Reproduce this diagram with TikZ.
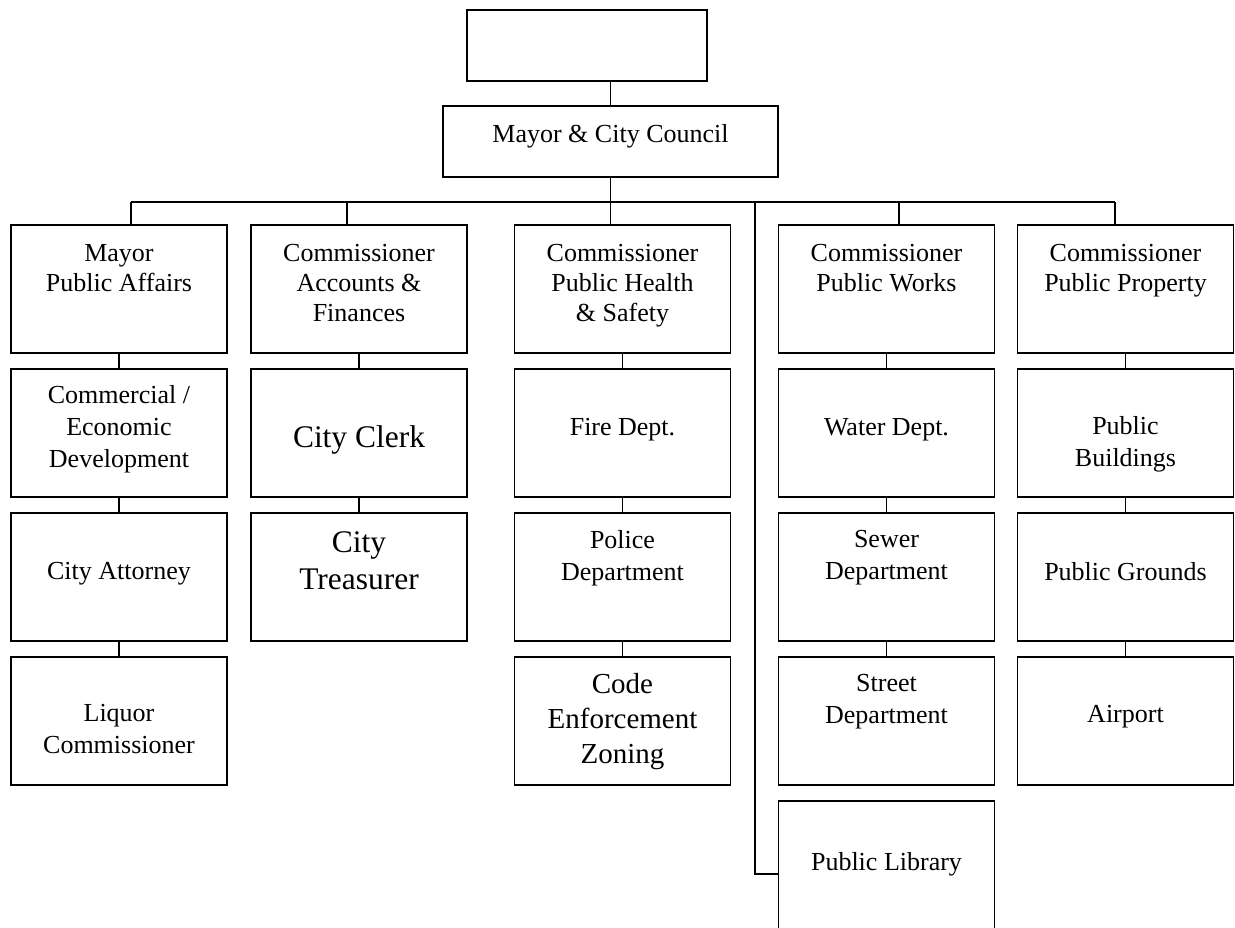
\documentclass[tikz,border=0pt]{standalone}
\usepackage{fontspec}
\setmainfont{Liberation Serif}
\usepackage{tikz}
\tikzset{
    box/.style={rectangle,draw=black,line width=1.4pt,outer sep=0pt,minimum width=162pt,minimum height=96pt,inner sep=0pt},
    headbox/.style={rectangle,draw=black,line width=1.4pt,outer sep=0pt,minimum height=53.25pt,inner sep=0pt},
    txt/.style={align=center,inner sep=0pt,font=\fontsize{19.5}{24}\selectfont},
    toptxt/.style={txt,font=\fontsize{19.5}{22.5}\selectfont},
    bigtxt/.style={txt,font=\fontsize{23.6}{27.75}\selectfont},
    midtxt/.style={txt,font=\fontsize{21.75}{26.25}\selectfont},
    link/.style={line width=1.3pt},
}
\usetikzlibrary{positioning,calc}

\begin{document}
\begin{tikzpicture}[x=0.75pt,y=-0.75pt]
\useasboundingbox (0,0) rectangle (1235,928);
\node[headbox,minimum width=180pt](top) at (587,45.5) {};
\node[headbox,minimum width=251.25pt](council) at (610.5,141.5) {};
\node[txt](councilt) [below=13.7pt of council.north] {Mayor \& City Council};
\draw[link] (council.north) -- (council.north |- top.south);

% bus under the council
\coordinate (b1) at (131,202);
\coordinate (b2) at (347,202);
\coordinate (b4) at (899,202);
\coordinate (b5) at (1115,202);
\coordinate (bl) at (755,202);
\draw[link] (b1) -- (b5);

% Mayor column
\node[box](mpa) at (119,289) {};
\node[box](ced) [below=12pt of mpa] {} edge[link] (mpa);
\node[box](att) [below=12pt of ced] {} edge[link] (ced);
\node[box](liq) [below=12pt of att] {} edge[link] (att);
\node[toptxt](mpat) [below=14.5pt of mpa.north] {Mayor\\Public Affairs};
\node[txt](cedt) [below=12.2pt of ced.north] {Commercial /\\Economic\\Development};
\node[txt](attt) [below=37pt of att.north] {City Attorney};
\node[txt](liqt) [below=35.5pt of liq.north] {Liquor\\Commissioner};

% Accounts column
\node[box](acc) at (359,289) {};
\node[box](clerk) [below=12pt of acc] {} edge[link] (acc);
\node[box](treas) [below=12pt of clerk] {} edge[link] (clerk);
\node[toptxt](acct) [below=14.5pt of acc.north] {Commissioner\\Accounts \&\\Finances};
\node[bigtxt](clerkt) [below=42.5pt of clerk.north] {City Clerk};
\node[bigtxt](treast) [below=14pt of treas.north] {City\\Treasurer};

% Health column
\node[box](phs) at (622.5,289) {};
\node[box](fire) [below=12pt of phs] {} edge[link] (phs);
\node[box](police) [below=12pt of fire] {} edge[link] (fire);
\node[box](code) [below=12pt of police] {} edge[link] (police);
\node[toptxt](phst) [below=14.5pt of phs.north] {Commissioner\\Public Health\\\& Safety};
\node[txt](firet) [below=37pt of fire.north] {Fire Dept.};
\node[txt](policet) [below=13pt of police.north] {Police\\Department};
\node[midtxt](codet) [below=12.2pt of code.north] {Code\\Enforcement\\Zoning};

% Works column
\node[box](pw) at (886.5,289) {};
\node[box](water) [below=12pt of pw] {} edge[link] (pw);
\node[box](sewer) [below=12pt of water] {} edge[link] (water);
\node[box](street) [below=12pt of sewer] {} edge[link] (sewer);
\node[box](lib) [below=12pt of street] {};
\node[toptxt](pwt) [below=14.5pt of pw.north] {Commissioner\\Public Works};
\node[txt](watert) [below=37pt of water.north] {Water Dept.};
\node[txt](sewert) [below=13pt of sewer.north] {Sewer\\Department};
\node[txt](streett) [below=13pt of street.north] {Street\\Department};
\node[txt](libt) [below=38.5pt of lib.north] {Public Library};

% Property column
\node[box](pp) at (1125.5,289) {};
\node[box](bld) [below=12pt of pp] {} edge[link] (pp);
\node[box](grd) [below=12pt of bld] {} edge[link] (bld);
\node[box](air) [below=12pt of grd] {} edge[link] (grd);
\node[toptxt](ppt) [below=14.5pt of pp.north] {Commissioner\\Public Property};
\node[txt](bldt) [below=35.5pt of bld.north] {Public\\Buildings};
\node[txt](grdt) [below=37pt of grd.north] {Public Grounds};
\node[txt](airt) [below=36.2pt of air.north] {Airport};

% drops from the bus
\draw[link] (council.south) -- (council.south |- phs.north);
\draw[link] (b1) -- (b1 |- mpa.north);
\draw[link] (b2) -- (b2 |- acc.north);
\draw[link] (b4) -- (b4 |- pw.north);
\draw[link] (b5) -- (b5 |- pp.north);
\draw[link] (bl) |- ($(lib.west)+(0,9)$);
\end{tikzpicture}
\end{document}
